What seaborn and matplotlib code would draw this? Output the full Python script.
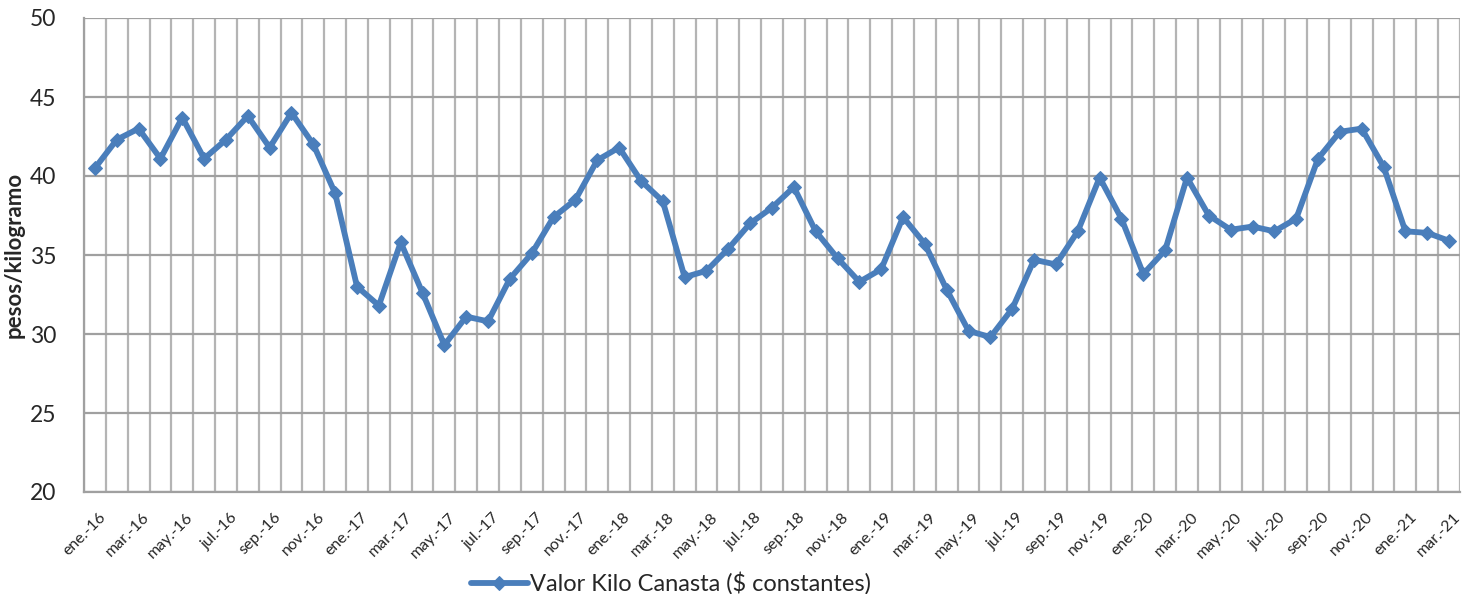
import numpy as np
import pandas as pd
import seaborn as sns
import matplotlib.pyplot as plt
from matplotlib.transforms import ScaledTranslation

# monthly kilo value of the basket, ene-16 .. mar-21
months = ['ene', 'feb', 'mar', 'abr', 'may', 'jun',
          'jul', 'ago', 'sep', 'oct', 'nov', 'dic']
years = ['16', '17', '18', '19', '20', '21']
periods = [f"{m}.-{y}" for y in years for m in months][:63]

valor = [40.5, 42.3, 43.0, 41.1, 43.7, 41.1, 42.3, 43.8, 41.8, 44.0, 42.0, 38.9,
         33.0, 31.8, 35.8, 32.6, 29.3, 31.1, 30.8, 33.5, 35.1, 37.4, 38.5, 41.0,
         41.8, 39.7, 38.4, 33.6, 34.0, 35.4, 37.0, 38.0, 39.3, 36.5, 34.8, 33.3,
         34.1, 37.4, 35.7, 32.8, 30.2, 29.8, 31.6, 34.7, 34.4, 36.5, 39.9, 37.3,
         33.8, 35.3, 39.9, 37.5, 36.6, 36.8, 36.5, 37.3, 41.1, 42.8, 43.0, 40.6,
         36.5, 36.4, 35.9]

serie = 'Valor Kilo Canasta ($ constantes)'
df = pd.DataFrame({'idx': np.arange(len(valor)), 'periodo': periods, 'valor': valor})

sns.set_style('white')
plt.rcParams['font.family'] = ['Lato', 'DejaVu Sans']

fig = plt.figure(figsize=(14.68, 5.94), dpi=100)
ax = fig.add_axes([84 / 1468, 1 - 492 / 594, (1460 - 84) / 1468, (492 - 18) / 594])

n = len(valor)
# category gridlines at every boundary
for b in np.arange(n + 1) - 0.5:
    ax.axvline(b, color='#b4b4b4', lw=1.6, zorder=0)
for yv in range(20, 51, 5):
    ax.axhline(yv, color='#a0a0a0', lw=1.6, zorder=0)

sns.lineplot(data=df, x='idx', y='valor', ax=ax, color='#4a7ebb', lw=4.2,
             marker='D', markersize=7, markeredgecolor='#4a7ebb', label=serie,
             legend=False, zorder=3)

ax.set_xlim(-0.5, n - 0.5)
ax.set_ylim(20, 50)
ax.set_yticks(range(20, 51, 5))
ax.tick_params(axis='y', length=7, width=1.4, color='#a0a0a0', pad=13, labelsize=16.5)

ax.set_xticks(df['idx'][::2], df['periodo'][::2], rotation=45, ha='right',
              rotation_mode='anchor')
ax.tick_params(axis='x', length=0, pad=13, labelsize=11.5)
shift = ScaledTranslation(4 / 100, 0, fig.dpi_scale_trans)
for lab in ax.get_xticklabels():
    lab.set_transform(lab.get_transform() + shift)
ax.set_xticks(np.arange(0, n, 2) - 0.5, minor=True)
ax.tick_params(axis='x', which='minor', length=6, width=1.4, color='#a0a0a0')

for s in ['top', 'right']:
    ax.spines[s].set_visible(False)
ax.spines['left'].set_color('#a0a0a0')
ax.spines['bottom'].set_color('#a0a0a0')
ax.spines['left'].set_linewidth(1.6)
ax.spines['bottom'].set_linewidth(1.6)

ax.set_xlabel('')
ax.set_ylabel('pesos/kilogramo', fontsize=16, fontweight='bold', labelpad=4)

handles, labels = ax.get_legend_handles_labels()
fig.legend(handles, labels, loc='center', bbox_to_anchor=(0.457, 0.018),
           frameon=False, fontsize=17, handlelength=2.4, handletextpad=0.1)

fig.savefig('out.png', dpi=100)
